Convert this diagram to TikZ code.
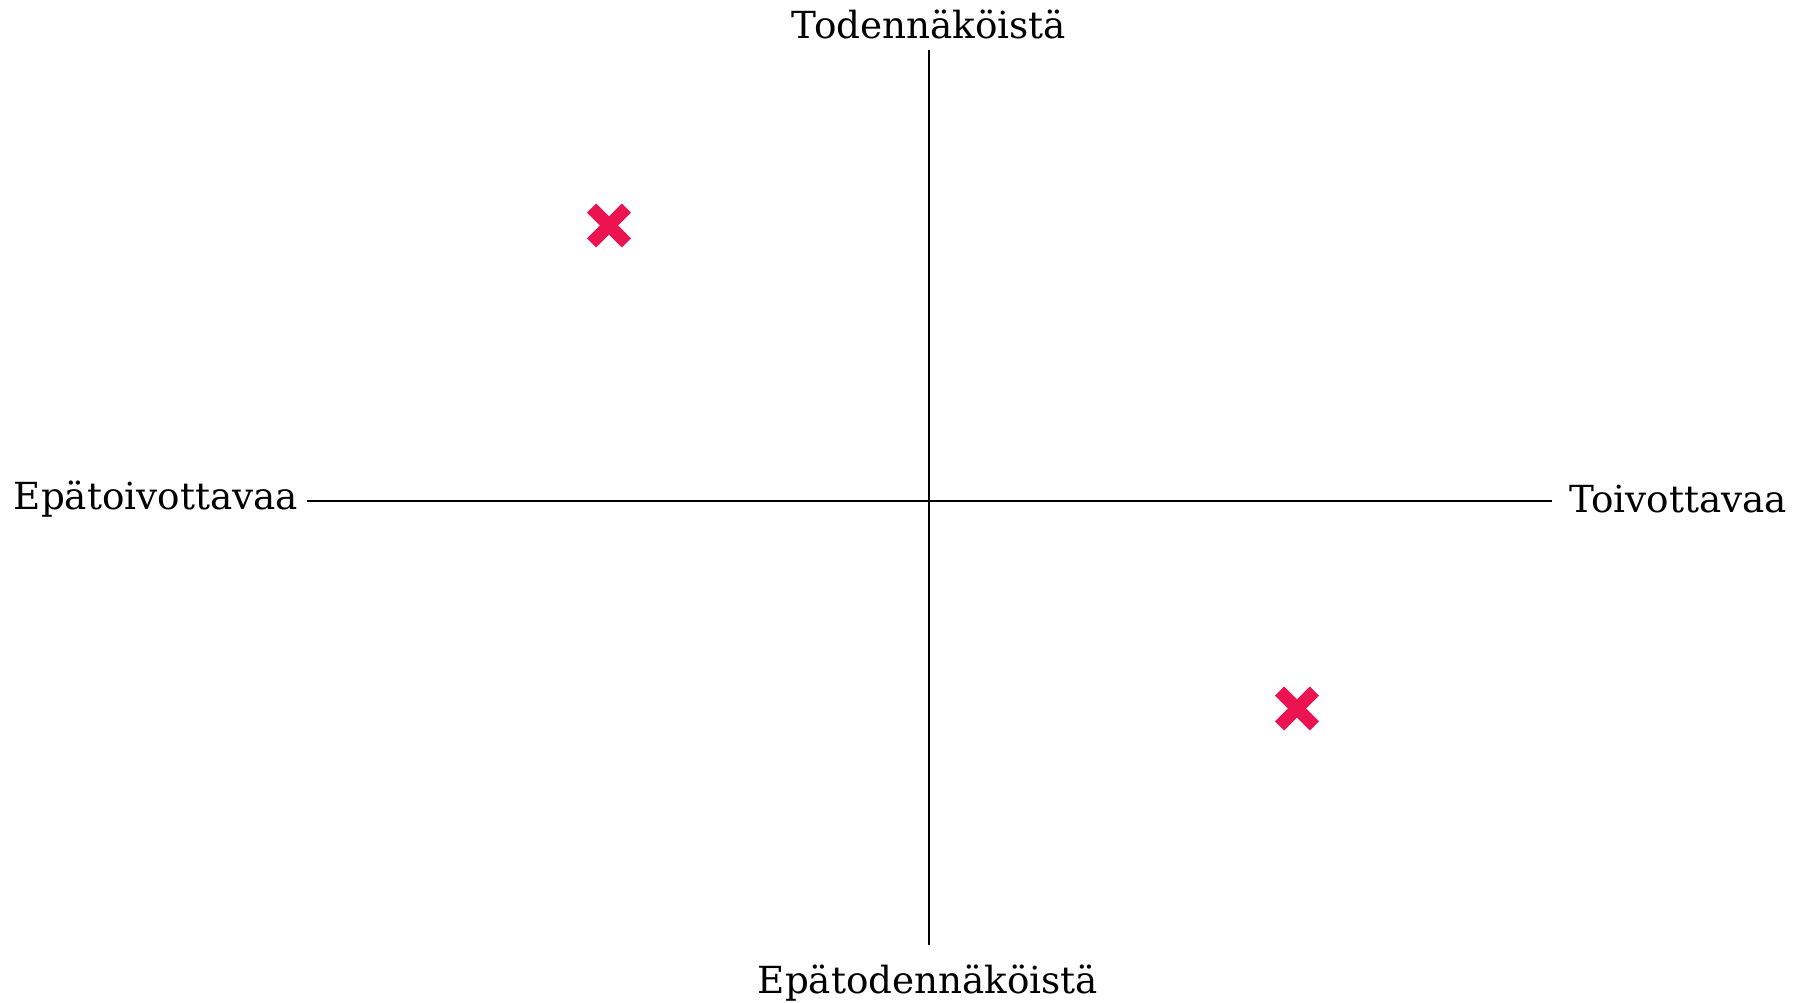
\documentclass[tikz,border=0pt]{standalone}
\usepackage{fontspec}
\setmainfont{DejaVu Serif}
\definecolor{markred}{RGB}{236,20,80}
\begin{document}
\begin{tikzpicture}[x=1pt,y=-1pt,
  lbl/.style={inner sep=0pt,font=\fontsize{37.3}{44}\selectfont},
  axis/.style={line width=2pt,black},
  markline/.style={line width=13pt,markred,line cap=butt}]
\useasboundingbox (0,0) rectangle (1798,1003);
\coordinate (top) at (929,50);
\coordinate (bot) at (929,945);
\coordinate (lft) at (307,501);
\coordinate (rgt) at (1552,501);
\draw[axis] (top) -- (bot);
\draw[axis] (lft) -- (rgt);
\node[lbl,anchor=base] (tl) at (929,39) {Todennäköistä};
\node[lbl,anchor=base] (bl) at (928,993) {Epätodennäköistä};
\node[lbl,anchor=base east] (ll) at (298,509) {Epätoivottavaa};
\node[lbl,anchor=base west] (rl) at (1569,512) {Toivottavaa};
\coordinate (m1) at (609,225.5);
\coordinate (m2) at (1297,708.5);
\foreach \m in {m1,m2}{
  \draw[markline] ([shift={(-17.4,-17.4)}]\m) -- ([shift={(17.4,17.4)}]\m);
  \draw[markline] ([shift={(-17.4,17.4)}]\m) -- ([shift={(17.4,-17.4)}]\m);
}
\end{tikzpicture}
\end{document}
